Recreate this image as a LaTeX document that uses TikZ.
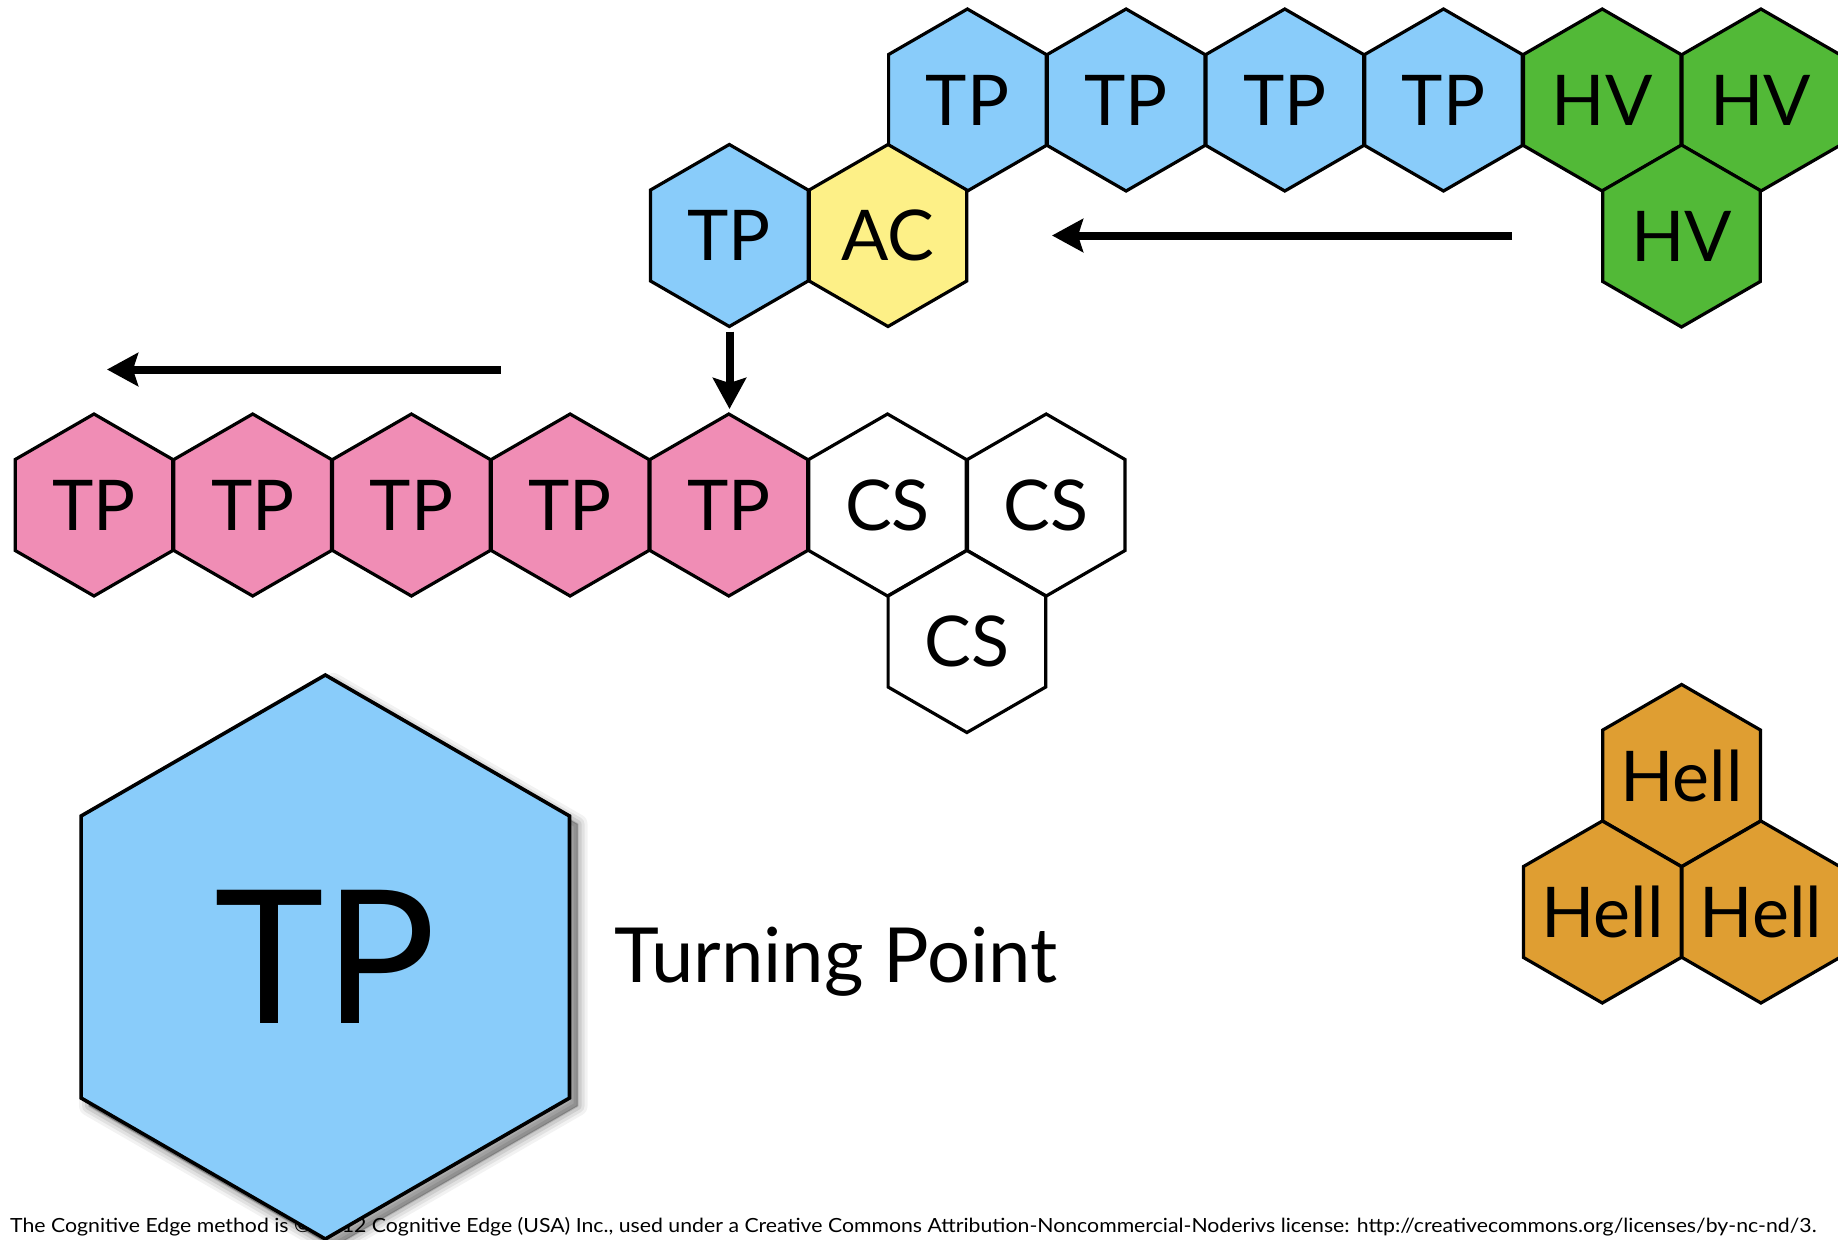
\documentclass[tikz,border=0pt]{standalone}
\usepackage{fontspec}
\setmainfont{Lato}
\usetikzlibrary{shapes.geometric,arrows.meta,shadows}
\definecolor{tpblue}{RGB}{137,204,250}
\definecolor{acyellow}{RGB}{253,240,135}
\definecolor{tppink}{RGB}{240,141,181}
\definecolor{hvgreen}{RGB}{82,185,55}
\definecolor{hellorange}{RGB}{223,158,50}
\begin{document}
\begin{tikzpicture}[x=1pt,y=-1pt,
  hexcell/.style={regular polygon, regular polygon sides=6, shape border rotate=30,
    minimum size=182pt, inner sep=0pt, draw=black, line width=3.2pt,
    font=\fontsize{70}{70}\selectfont},
  bighex/.style={hexcell, minimum size=564pt, line width=3.6pt,
    font=\fontsize{186}{186}\selectfont},
  shadowlayer/.style 2 args={general shadow={shadow xshift=8pt, shadow yshift=-8pt,
    fill=black, draw=black, line width=#1, line join=round,
    fill opacity=#2, draw opacity=#2}},
  blurshadow/.style={shadowlayer={20pt}{0.05}, shadowlayer={14pt}{0.07},
    shadowlayer={8pt}{0.09}, shadowlayer={2pt}{0.12}},
  arrowline/.style={line width=8pt, -{Stealth[length=31pt, width=33pt, inset=5pt]}},
  footer/.style={anchor=base west, inner sep=0pt, font=\fontsize{19.5}{20}\selectfont},
  label/.style={anchor=base west, inner sep=0pt, font=\fontsize{76}{76}\selectfont}
]
\useasboundingbox (0,0) rectangle (1838,1239);
\clip (0,0) rectangle (1838,1239);

% top row
\node[hexcell, fill=tpblue] (t1) at (967.4,100) {TP};
\node[hexcell, fill=tpblue] (t2) at (1126.1,100) {TP};
\node[hexcell, fill=tpblue] (t3) at (1284.8,100) {TP};
\node[hexcell, fill=tpblue] (t4) at (1443.5,100) {TP};
\node[hexcell, fill=hvgreen] (h1) at (1602.2,100) {HV};
\node[hexcell, fill=hvgreen] (h2) at (1760.9,100) {HV};
\node[hexcell, fill=hvgreen] (h3) at (1681.5,236) {HV};

% middle row
\node[hexcell, fill=tpblue] (tm) at (729.3,235.5) {TP};
\node[hexcell, fill=acyellow] (ac) at (888.0,235.5) {AC};

% pink row
\node[hexcell, fill=tppink] (p1) at (94.0,505) {TP};
\node[hexcell, fill=tppink] (p2) at (252.7,505) {TP};
\node[hexcell, fill=tppink] (p3) at (411.4,505) {TP};
\node[hexcell, fill=tppink] (p4) at (570.1,505) {TP};
\node[hexcell, fill=tppink] (p5) at (728.8,505) {TP};
\node[hexcell, fill=white] (c1) at (887.5,505) {CS};
\node[hexcell, fill=white] (c2) at (1046.2,505) {CS};
\node[hexcell, fill=white] (c3) at (966.9,641.5) {CS};

% hell cluster
\node[hexcell, fill=hellorange] (e1) at (1681.6,775.5) {\makebox[0pt]{Hell}};
\node[hexcell, fill=hellorange] (e2) at (1602.3,912) {\makebox[0pt]{Hell}};
\node[hexcell, fill=hellorange] (e3) at (1760.9,912) {\makebox[0pt]{Hell}};

% arrows
\coordinate (a1s) at (1512,235.5);
\coordinate (a1e) at (1052,235.5);
\coordinate (a2s) at (500.5,369.5);
\coordinate (a2e) at (107,369.5);
\coordinate (a3s) at (729.5,331.5);
\coordinate (a3e) at (729.5,409);
\draw[arrowline] (a1s) -- (a1e);
\draw[arrowline] (a2s) -- (a2e);
\draw[arrowline] (a3s) -- (a3e);

% footer
\node[footer] (foot) at (10,1232) {\scalebox{1.09}[1]{The Cognitive Edge method is © 2012 Cognitive Edge (USA) Inc., used under a Creative Commons Attribution-Noncommercial-Noderivs license: http://creativecommons.org/licenses/by-nc-nd/3.}};

% big legend hexagon
\node[bighex, blurshadow, fill=tpblue] (big) at (325.3,957) {TP};
\node[label] (tplabel) at (614,982.5) {Turning Point};
\end{tikzpicture}
\end{document}
